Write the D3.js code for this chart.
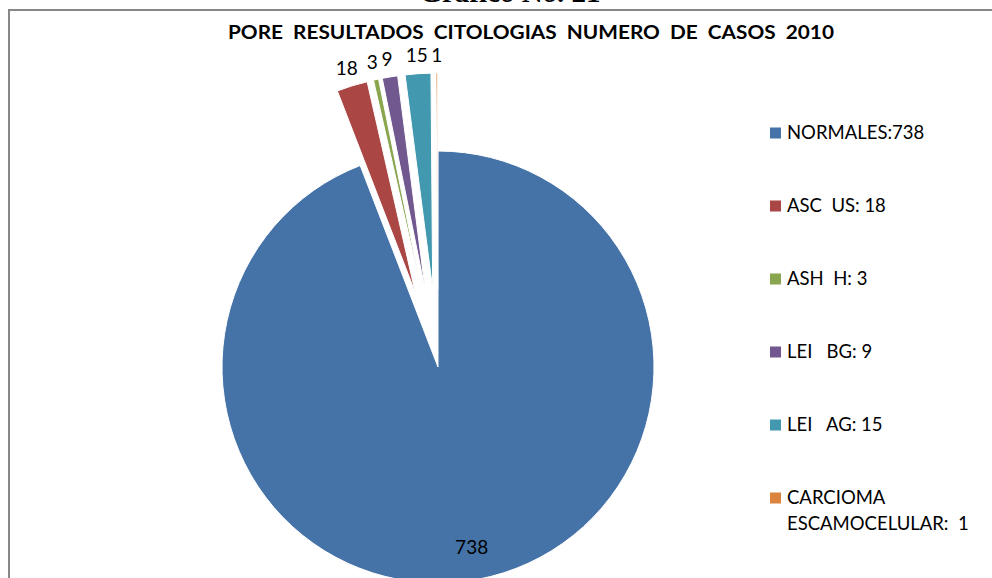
<!DOCTYPE html>
<html>
<head>
<meta charset="utf-8">
<script src="https://cdn.jsdelivr.net/npm/d3@7"></script>
<style>
body { margin: 0; background: #fff; }
svg { display: block; }
text { font-family: Lato, "Open Sans", sans-serif; fill: #000; white-space: pre; }
</style>
</head>
<body>
<div id="container"></div>
<script>
// Datos
var categorias = ["NORMALES", "ASC  US", "ASH  H", "LEI   BG", "LEI   AG", "CARCIOMA ESCAMOCELULAR"];
var casos = [738, 18, 3, 9, 15, 1];
var leyenda = [["NORMALES:738"], ["ASC  US: 18"], ["ASH  H: 3"], ["LEI   BG: 9"], ["LEI   AG: 15"], ["CARCIOMA", "ESCAMOCELULAR:  1"]];
var colores = ["#4573a7", "#aa4643", "#89a54e", "#71588f", "#4198af", "#db843d"];
var titulo = "PORE  RESULTADOS  CITOLOGIAS  NUMERO  DE  CASOS  2010";
var tituloDoc = "Gráfico No. 21";

var w = 992;
var h = 578;
var cx = 438, cy = 367;
var radio = 216;
var separacion = 78;

var svg = d3.select("div#container")
            .append("svg")
            .attr("width", w)
            .attr("height", h);

// titulo del documento (cortado arriba)
svg.append("text")
    .attr("x", 510)
    .attr("y", 2)
    .attr("text-anchor", "middle")
    .style("font-family", "'Liberation Serif', serif")
    .style("font-weight", "bold")
    .style("font-size", "29px")
    .text(tituloDoc);

// marco
svg.append("rect")
    .attr("x", 9)
    .attr("y", 10)
    .attr("width", w)
    .attr("height", h)
    .attr("fill", "none")
    .attr("stroke", "#878787")
    .attr("stroke-width", 2);

svg.append("text")
    .attr("x", 531)
    .attr("y", 33)
    .attr("dy", "0.35em")
    .attr("text-anchor", "middle")
    .attr("textLength", 606)
    .attr("lengthAdjust", "spacingAndGlyphs")
    .style("font-weight", "bold")
    .style("font-size", "18px")
    .text(titulo);

var pie = d3.pie().sort(null).value(function(d) { return d; });
var arcos = pie(casos);
var arc = d3.arc().innerRadius(0).outerRadius(radio);
var arcEtiqueta = d3.arc().innerRadius(radio + 18).outerRadius(radio + 18);
var arcCentro = d3.arc().innerRadius(radio * 0.85).outerRadius(radio * 0.85);

function desplazamiento(d, i) {
    if (i == 0) return [0, 0];
    var medio = (d.startAngle + d.endAngle) / 2;
    return [Math.sin(medio) * separacion, -Math.cos(medio) * separacion];
}

var g = svg.append("g").attr("transform", "translate(" + cx + "," + cy + ")");

g.selectAll("path")
    .data(arcos)
    .enter()
    .append("path")
    .attr("d", arc)
    .attr("transform", function(d, i) {
        var t = desplazamiento(d, i);
        return "translate(" + t[0] + "," + t[1] + ")";
    })
    .attr("fill", function(d, i) { return colores[i]; })
    .attr("stroke", "#fff")
    .attr("stroke-width", 1);

g.selectAll("text.etiqueta")
    .data(arcos)
    .enter()
    .append("text")
    .attr("class", "etiqueta")
    .attr("transform", function(d, i) {
        var t = desplazamiento(d, i);
        var c = i == 0 ? arcCentro.centroid(d) : arcEtiqueta.centroid(d);
        return "translate(" + (t[0] + c[0]) + "," + (t[1] + c[1]) + ")";
    })
    .attr("dy", "0.35em")
    .attr("text-anchor", "middle")
    .style("font-size", "19px")
    .text(function(d) { return d.data; });

// leyenda
var ley = svg.selectAll("g.leyenda")
    .data(leyenda)
    .enter()
    .append("g")
    .attr("class", "leyenda")
    .attr("transform", function(d, i) { return "translate(770," + (133 + i * 73) + ")"; });

ley.append("rect")
    .attr("x", 0)
    .attr("y", -5.5)
    .attr("width", 11)
    .attr("height", 11)
    .attr("fill", function(d, i) { return colores[i]; });

ley.each(function(d) {
    var t = d3.select(this).append("text")
        .attr("x", 17)
        .attr("y", 0)
        .style("font-size", "18.5px");
    d.forEach(function(linea, j) {
        t.append("tspan")
            .attr("x", 17)
            .attr("y", j * 26)
            .attr("dy", "0.35em")
            .text(linea);
    });
});
</script>
</body>
</html>
